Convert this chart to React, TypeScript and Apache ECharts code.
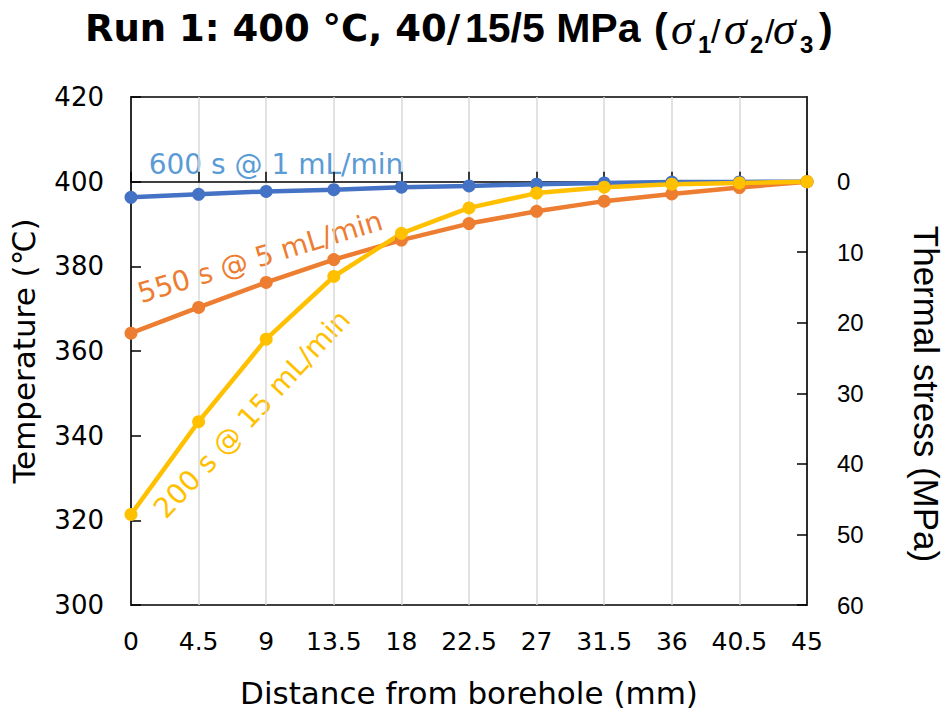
import React, { useEffect, useRef } from "react";
import * as echarts from "echarts";

const distances = ["0", "4.5", "9", "13.5", "18", "22.5", "27", "31.5", "36", "40.5", "45"];
const blue600s = [396.3, 397.0, 397.7, 398.1, 398.7, 399.0, 399.4, 399.7, 399.9, 399.95, 400];
const orange550s = [364.2, 370.3, 376.2, 381.6, 386.2, 390.1, 393.0, 395.4, 397.1, 398.6, 400];
const yellow200s = [321.4, 343.3, 362.8, 377.6, 387.8, 393.8, 397.3, 398.7, 399.4, 399.7, 400];
const stressTicks = [0, 10, 20, 30, 40, 50, 60];
const seriesNames = ["600 s @ 1 mL/min", "550 s @ 5 mL/min", "200 s @ 15 mL/min"];

export default function App() {
  const ref = useRef<HTMLDivElement>(null);
  useEffect(() => {
    document.body.style.margin = "0";
    const chart = echarts.init(ref.current!, null, { renderer: "svg" });
    const lineColors = ["#4472C4", "#ED7D31", "#FFC000"];
    const mk = (name: string, data: number[], color: string) => ({
      name,
      type: "line",
      data,
      xAxisIndex: 0,
      yAxisIndex: 0,
      symbol: "circle",
      symbolSize: 13,
      lineStyle: { color, width: 4.5 },
      itemStyle: { color },
      emphasis: { disabled: true },
    });
    const t = (text: string, x: number, y: number, font: any) => ({
      type: "text",
      x,
      y,
      style: {
        text,
        fill: "#000",
        align: "left",
        verticalAlign: "middle",
        ...font,
      },
    });
    const sansBold = { fontFamily: "DejaVu Sans", fontWeight: "bold", fontSize: 37 };
    const arialBold = { fontFamily: "Liberation Sans", fontWeight: "bold", fontSize: 41 };
    const sigma = { fontFamily: "Liberation Serif", fontStyle: "italic", fontSize: 46 };
    const sub = { fontFamily: "Liberation Sans", fontWeight: "bold", fontSize: 24 };
    const slash = { fontFamily: "Liberation Sans", fontWeight: "normal", fontSize: 34 };
    chart.setOption({
      animation: false,
      backgroundColor: "#ffffff",
      grid: {
        left: 129,
        right: 137,
        top: 97,
        bottom: 113,
        show: true,
        borderColor: "#000",
        borderWidth: 1.5,
      },
      xAxis: {
        type: "category",
        data: distances,
        boundaryGap: false,
        name: "Distance from borehole (mm)",
        nameLocation: "middle",
        nameGap: 72,
        nameTextStyle: { fontFamily: "DejaVu Sans", fontSize: 31, color: "#000" },
        axisLine: { lineStyle: { color: "#000", width: 1.5 } },
        axisTick: { inside: true, length: 10, interval: 0, lineStyle: { color: "#000", width: 1.5 } },
        axisLabel: { fontFamily: "DejaVu Sans", fontSize: 25, color: "#000", margin: 24, interval: 0, hideOverlap: false },
        splitLine: { show: true, interval: 0, lineStyle: { color: "#D9D9D9", width: 1.5 } },
      },
      yAxis: [
        {
          type: "value",
          min: 300,
          max: 420,
          interval: 20,
          name: "Temperature (℃)",
          nameLocation: "middle",
          nameRotate: 90,
          nameGap: 92,
          nameTextStyle: { fontFamily: "DejaVu Sans", fontSize: 31, color: "#000" },
          axisLine: { show: true, lineStyle: { color: "#000", width: 1.5 } },
          axisTick: { show: true, inside: true, length: 10, lineStyle: { color: "#000", width: 1.5 } },
          axisLabel: { fontFamily: "DejaVu Sans", fontSize: 26, color: "#000", margin: 27 },
          splitLine: { show: false },
        },
        {
          type: "value",
          position: "right",
          inverse: true,
          min: -12,
          max: 60,
          axisLine: { show: true, lineStyle: { color: "#000", width: 1.5 } },
          axisTick: { show: true, inside: true, length: 10, customValues: stressTicks, lineStyle: { color: "#000", width: 1.5 } },
          axisLabel: { fontFamily: "Liberation Sans", fontSize: 24, color: "#000", margin: 30, customValues: stressTicks },
          splitLine: { show: false },
        },
      ],
      series: [
        mk(seriesNames[0], blue600s, lineColors[0]),
        mk(seriesNames[1], orange550s, lineColors[1]),
        mk(seriesNames[2], yellow200s, lineColors[2]),
      ],
      graphic: [
        t("Run 1: 400 °C, 40/", 85, 28, sansBold),
        t("15/5 MPa", 465, 28, arialBold),
        t("(", 654, 28, arialBold),
        t("σ", 671, 28, sigma),
        t("1", 698, 44, sub),
        t("/", 711, 31, slash),
        t("σ", 724, 28, sigma),
        t("2", 750, 44, sub),
        t("/", 765, 31, slash),
        t("σ", 773, 28, sigma),
        t("3", 800, 44, sub),
        t(")", 819, 28, arialBold),
        {
          type: "text",
          x: 926,
          y: 394,
          rotation: -Math.PI / 2,
          style: {
            text: "Thermal stress (MPa)",
            fill: "#000",
            fontFamily: "Liberation Sans",
            fontSize: 35,
            align: "center",
            verticalAlign: "middle",
          },
        },
        {
          type: "text",
          x: 276,
          y: 164,
          style: {
            text: seriesNames[0],
            fill: "#5B9BD5",
            fontFamily: "DejaVu Sans",
            fontSize: 28,
            align: "center",
            verticalAlign: "middle",
          },
        },
        {
          type: "text",
          x: 260,
          y: 257,
          rotation: (17 * Math.PI) / 180,
          style: {
            text: seriesNames[1],
            fill: "#ED7D31",
            fontFamily: "DejaVu Sans",
            fontSize: 28,
            align: "center",
            verticalAlign: "middle",
          },
        },
        {
          type: "text",
          x: 252,
          y: 414,
          rotation: (47 * Math.PI) / 180,
          style: {
            text: seriesNames[2],
            fill: "#FFC000",
            fontFamily: "DejaVu Sans",
            fontSize: 28,
            align: "center",
            verticalAlign: "middle",
          },
        },
      ],
    });
    return () => chart.dispose();
  }, []);
  return <div ref={ref} style={{ width: 944, height: 718 }} />;
}
